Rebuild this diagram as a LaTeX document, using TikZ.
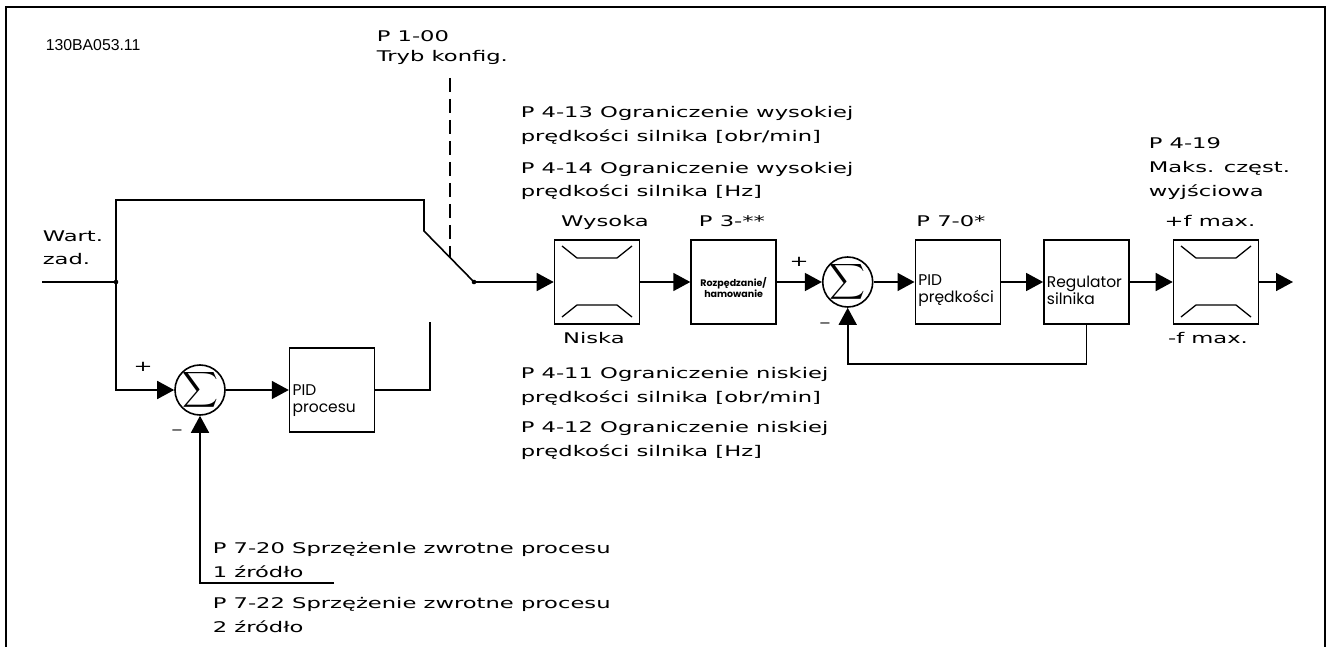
\documentclass[tikz,border=0pt]{standalone}
\usepackage{fontspec}
\usepackage{amsmath}
\setmainfont{DejaVu Sans}[FakeStretch=1.54]
\newfontfamily\boxfont{Poppins}
\newfontfamily\idfont{Liberation Sans}
\usetikzlibrary{arrows.meta, positioning, calc}

\begin{document}
\begin{tikzpicture}[x=1pt, y=-1pt,
  line width=1.6pt,
  font=\fontsize{14.7}{24}\selectfont,
  blk/.style={draw, minimum width=85pt, minimum height=84pt, inner sep=3pt,
              text width=79pt, text height=28pt, align=left,
              font=\boxfont\fontsize{15.5}{17}\selectfont},
  lim/.style={draw, minimum width=85pt, minimum height=84pt, inner sep=0pt},
  sumnode/.style={draw, circle, minimum size=50pt, inner sep=-6pt,
                  font=\fontsize{24}{24}\selectfont},
  lbl/.style={anchor=base west, align=left, inner sep=0pt},
  top/.style={anchor=base, inner sep=0pt},
  sgn/.style={inner sep=0pt},
  ar/.style={-{Triangle[length=17pt, width=18pt]}},
  limsym/.style={line width=1.3pt},
  node distance=45pt]

\useasboundingbox (0,0) rectangle (1328,647);
\draw[line width=2.8pt] (6,647) -- (6,7) -- (1325,7) -- (1325,647);

\node[lbl] (code) at (45,51) {\idfont\fontsize{15.8}{18}\selectfont 130BA053.11};

% speed loop
\node[lim] (hi) at (597,282) {};
\node[blk, align=center, right=50pt of hi, text height=21pt,
      font=\boxfont\bfseries\fontsize{9.5}{11}\selectfont] (ramp) {Rozpędzanie/\\hamowanie};
\node[sumnode, right=45pt of ramp] (sumB) {$\displaystyle\sum$};
\node[blk, right=41pt of sumB] (pidS) {PID\\prędkości};
\node[blk, right=42pt of pidS] (reg) {Regulator\\silnika};
\node[lim, right=43pt of reg] (fmax) {};

% process loop
\node[sumnode] (sumA) at (200,390) {$\displaystyle\sum$};
\node[blk, right=63pt of sumA, text height=32pt] (pidP) {PID\\procesu};

\draw[limsym, shift={(hi.center)}] (-35,-36) -- (-20,-24) -- (20,-24) -- (35,-36)
  (-35,35) -- (-20,23) -- (20,23) -- (35,35);
\draw[limsym, shift={(fmax.center)}] (-35,-36) -- (-20,-24) -- (20,-24) -- (35,-36)
  (-35,35) -- (-20,23) -- (20,23) -- (35,35);

% labels (base = last line)
\node[lbl, font=\fontsize{14.7}{20}\selectfont] (mode) at (376,62) {P 1-00\\Tryb konfig.};
\node[lbl] (ref) at (42,265) {Wart.\\zad.};
\node[lbl] (hiA) at (520,142) {P 4-13 Ograniczenie wysokiej\\prędkości silnika [obr/min]};
\node[lbl] (hiB) at (520,197) {P 4-14 Ograniczenie wysokiej\\prędkości silnika [Hz]};
\node[lbl] (loA) at (520,402) {P 4-11 Ograniczenie niskiej\\prędkości silnika [obr/min]};
\node[lbl] (loB) at (520,456) {P 4-12 Ograniczenie niskiej\\prędkości silnika [Hz]};
\node[lbl] (fmaxP) at (1148,197) {P 4-19\\Maks. częst.\\wyjściowa};
\node[lbl] (fbA) at (212,577) {P 7-20 Sprzężenle zwrotne procesu\\1 źródło};
\node[lbl] (fbB) at (212,632) {P 7-22 Sprzężenie zwrotne procesu\\2 źródło};

\node[top] (hiT) at (605,227) {Wysoka};
\node[top] (loT) at (594,343) {Niska};
\node[top] (rampT) at (732,227) {P 3-**};
\node[top] (pidST) at (951,227) {P 7-0*};
\node[top] (fmaxT) at (1210,227) {+f max.};
\node[top] (fminT) at (1208,343) {-f max.};

\node[sgn] (plB) at (799,262) {+};
\node[sgn] (mnB) at (825,325) {–};
\node[sgn] (plA) at (143,367) {+};
\node[sgn] (mnA) at (177,432) {–};

% wiring
\coordinate (in) at (42,282);
\coordinate (jn) at (116,282);
\coordinate (k1) at (424,200);
\coordinate (k2) at (424,231);
\coordinate (sw) at (474,282);
\coordinate (opn) at (430,322);
\coordinate (fbk) at (334,583);
\coordinate (out) at (1293,282);
\coordinate (dsh1) at (450,78);
\coordinate (dsh2) at (450,257);

\draw (in) -- (jn);
\draw (jn) |- (k1) -- (k2) -- (sw);
\draw[ar] (jn) |- (sumA);
\draw[ar] (sumA) -- (pidP);
\draw (pidP) -| (opn);
\draw[ar] (fbk) -| (sumA);
\draw[line width=1.3pt, dash pattern=on 14pt off 7pt] (dsh1) -- (dsh2);

\draw[ar] (sw) -- (hi);
\draw[ar] (hi) -- (ramp);
\draw[ar] (ramp) -- (sumB);
\draw[ar] (sumB) -- (pidS);
\draw[ar] (pidS) -- (reg);
\draw[ar] (reg) -- (fmax);
\draw[ar] (fmax) -- (out);
\draw[ar] (reg.south) -- ++(0,39) -| (sumB);

\fill (jn) circle (2.3);
\fill (sw) circle (2.3);
\end{tikzpicture}
\end{document}
